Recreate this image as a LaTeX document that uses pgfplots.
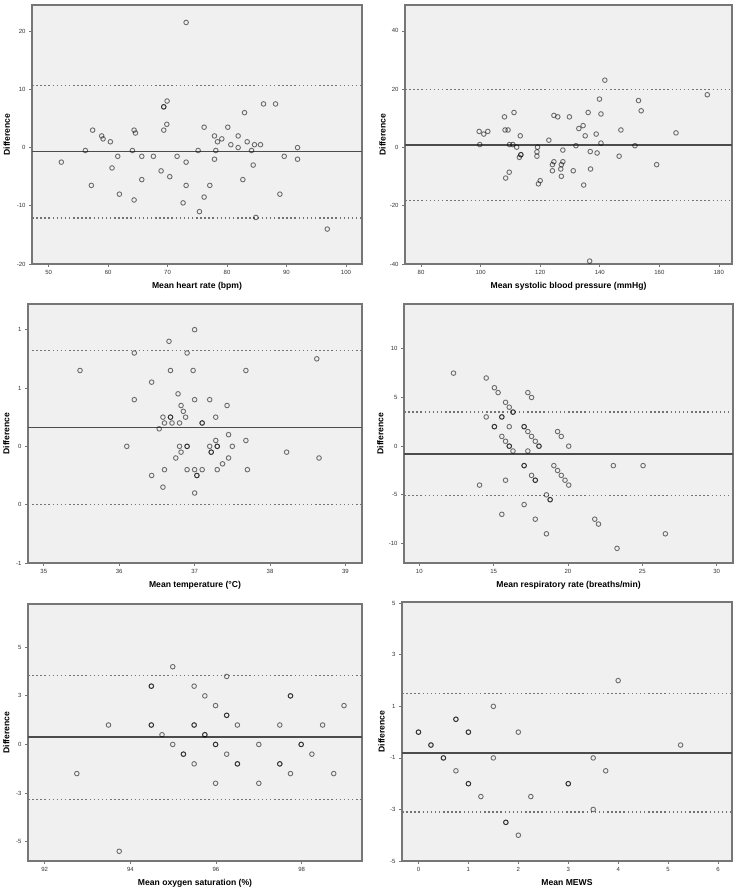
\documentclass[border=0pt]{standalone}
\usepackage{fontspec}
\setmainfont{Liberation Sans}[BoldFont={Liberation Sans Bold}]
\usepackage{pgfplots}
\pgfplotsset{compat=1.18}

\definecolor{bgc}{RGB}{240,240,240}
\definecolor{framec}{RGB}{118,118,118}
\newcommand{\lblfont}{\fontsize{8.6}{10}\selectfont\bfseries}

\pgfplotsset{
  ba/.style={
    scale only axis, anchor=south west,
    axis background/.style={fill=bgc},
    axis line style={draw=framec, line width=1.3pt},
    tick style={draw=framec, line width=0.8pt},
    tick align=outside, major tick length=3pt,
    xtick pos=bottom, ytick pos=left,
    tick label style={font=\fontsize{6}{7}\selectfont, text=black!80},
    /pgf/number format/assume math mode=true,
    every axis x label/.style={at={(axis description cs:0.5,0)}, anchor=center, yshift=-22pt, font=\lblfont},
    every axis y label/.style={rotate=90, anchor=center, font=\lblfont},
    ylabel=Difference,
  },
  pts/.style={only marks, mark=o, mark size=2.3pt,
    mark options={draw=black, draw opacity=0.55, line width=0.9pt}},
  meanl/.style={draw=black!70, line width=1.5pt},
  loa/.style={draw=black!55, line width=1.3pt, dash pattern=on 1.5pt off 2.6pt},
}

\begin{document}
\begin{tikzpicture}
\useasboundingbox (0pt,0pt) rectangle (740pt,892pt);

% heart rate
\begin{axis}[ba, at={(32pt,628pt)}, width=330pt, height=259pt,
  xmin=47.2, xmax=102.7, ymin=-20, ymax=24.5,
  xtick={50,60,...,100}, ytick={-20,-10,...,20},
  xlabel={Mean heart rate (bpm)},
  ylabel style={at={(axis description cs:-0.076,0.5)}}]
\addplot[meanl] coordinates {(47.2,-0.65) (102.7,-0.65)};
\addplot[loa] coordinates {(47.2,10.7) (102.7,10.7)};
\addplot[loa] coordinates {(47.2,-12.1) (102.7,-12.1)};
\addplot[pts] coordinates {
(73.12,21.5) (86.14,7.5) (88.16,7.5) (69.92,8.0) (69.36,7.0) (69.36,7.0)
(82.94,6.0) (69.87,4.0) (57.4,3.0) (64.37,3.0) (69.36,3.0) (76.15,3.5)
(80.13,3.5) (64.6,2.5) (58.92,2.0) (77.89,2.0) (81.87,2.0) (59.15,1.5)
(79.12,1.5) (60.38,1.0) (78.4,1.0) (83.39,1.0) (80.64,0.5) (84.62,0.5)
(85.63,0.5) (81.87,0) (91.86,0) (56.17,-0.5) (64.09,-0.5) (75.14,-0.5)
(78.11,-0.5) (84.12,-0.5) (61.62,-1.5) (65.66,-1.5) (67.62,-1.5) (71.6,-1.5)
(89.62,-1.5) (77.89,-2.0) (91.86,-2.0) (52.13,-2.5) (73.12,-2.5) (84.4,-3.0)
(60.66,-3.5) (68.91,-4.0) (70.37,-5.0) (65.66,-5.5) (82.66,-5.5) (57.18,-6.5)
(73.12,-6.5) (77.1,-6.5) (61.9,-8.0) (88.89,-8.0) (76.15,-8.5) (64.37,-9.0)
(72.61,-9.5) (75.36,-11.0) (84.85,-12.0) (96.86,-14.0)
};
\end{axis}

% systolic blood pressure
\begin{axis}[ba, at={(405pt,628pt)}, width=327pt, height=259pt,
  xmin=74.6, xmax=184.4, ymin=-40, ymax=48.9,
  xtick={80,100,...,180}, ytick={-40,-20,...,40},
  xlabel={Mean systolic blood pressure (mmHg)},
  ylabel style={at={(axis description cs:-0.069,0.5)}}]
\addplot[meanl] coordinates {(74.6,0.9) (184.4,0.9)};
\addplot[loa] coordinates {(74.6,19.9) (184.4,19.9)};
\addplot[loa] coordinates {(74.6,-18.2) (184.4,-18.2)};
\addplot[pts] coordinates {
(141.7,23.1) (176.1,18.1) (139.9,16.6) (153.0,16.1) (153.9,12.6) (111.2,12.0)
(136.1,12.0) (108.0,10.5) (124.6,11.0) (125.9,10.5) (129.8,10.5) (140.4,11.5)
(134.4,7.5) (132.97,6.5) (108.2,6.0) (109.2,6.0) (147.1,6.0) (99.5,5.5)
(102.4,5.5) (101.05,4.6) (138.8,4.6) (165.6,5.0) (113.3,4.0) (135.1,4.0)
(122.9,2.5) (99.7,1.0) (109.7,1.0) (110.8,1.0) (140.4,1.5) (112.1,0.1)
(119.1,0.1) (132.0,0.6) (151.8,0.6) (127.6,-0.9) (136.8,-1.4) (118.9,-1.5)
(139.1,-1.9) (118.9,-3.0) (113.5,-2.5) (113.5,-2.5) (113.0,-3.4) (146.5,-3.0)
(124.6,-4.9) (127.6,-4.9) (124.1,-5.9) (127.1,-5.9) (159.1,-5.9) (126.9,-7.4)
(136.9,-7.4) (124.1,-8.0) (131.1,-8.0) (109.6,-8.5) (108.4,-10.5) (127.1,-9.9)
(120.0,-11.4) (119.4,-12.5) (134.6,-12.9) (136.6,-39.0)
};
\end{axis}

% temperature
\begin{axis}[ba, at={(28pt,329pt)}, width=334pt, height=259pt,
  xmin=34.79, xmax=39.22, ymin=-1, ymax=1.22,
  xtick={35,36,...,39}, ytick={-1,-0.5,0,0.5,1}, yticklabels={-1,0,0,1,1},
  xlabel={Mean temperature (°C)},
  ylabel style={at={(axis description cs:-0.065,0.5)}}]
\addplot[meanl] coordinates {(34.79,0.163) (39.22,0.163)};
\addplot[loa] coordinates {(34.79,0.82) (39.22,0.82)};
\addplot[loa] coordinates {(34.79,-0.5) (39.22,-0.5)};
\addplot[pts] coordinates {
(37.0,1.0) (36.66,0.9) (36.2,0.8) (36.9,0.8) (38.62,0.75) (35.48,0.65)
(36.68,0.65) (36.98,0.65) (37.68,0.65) (36.43,0.55) (36.2,0.4) (36.78,0.45)
(37.0,0.4) (37.2,0.4) (36.82,0.35) (37.43,0.35) (36.85,0.3) (36.58,0.25)
(36.68,0.25) (36.68,0.25) (36.88,0.25) (37.28,0.25) (36.6,0.2) (36.7,0.2)
(36.8,0.2) (37.1,0.2) (37.1,0.2) (36.53,0.15) (37.45,0.1) (37.28,0.05)
(37.68,0.05) (36.1,0.0) (36.8,0.0) (36.9,0) (36.9,0) (37.2,0) (37.3,0) (37.3,0)
(37.5,0) (36.82,-0.05) (37.22,-0.05) (37.22,-0.05) (38.22,-0.05) (36.75,-0.1)
(37.45,-0.1) (38.65,-0.1) (37.37,-0.15) (36.43,-0.25) (36.6,-0.2) (36.9,-0.2)
(37.0,-0.2) (37.1,-0.2) (37.3,-0.2) (37.7,-0.2) (37.03,-0.25) (37.03,-0.25)
(36.58,-0.35) (37.0,-0.4)
};
\end{axis}

% respiratory rate
\begin{axis}[ba, at={(404pt,329pt)}, width=329pt, height=259pt,
  xmin=8.97, xmax=31.1, ymin=-12, ymax=14.6,
  xtick={10,15,...,30}, ytick={-10,-5,...,10},
  xlabel={Mean respiratory rate (breaths/min)},
  ylabel style={at={(axis description cs:-0.072,0.5)}}]
\addplot[meanl] coordinates {(8.97,-0.79) (31.1,-0.79)};
\addplot[loa] coordinates {(8.97,3.5) (31.1,3.5)};
\addplot[loa] coordinates {(8.97,-5.1) (31.1,-5.1)};
\addplot[pts] coordinates {
(12.3,7.5) (14.5,7) (15.05,6) (15.3,5.5) (17.3,5.5) (17.55,5) (15.8,4.5)
(16.05,4) (16.3,3.5) (16.3,3.5) (14.5,3) (15.55,3) (15.55,3) (15.05,2)
(15.05,2) (16.05,2) (17.05,2) (17.05,2) (17.3,1.5) (19.3,1.5) (15.55,1)
(17.55,1) (19.55,1) (15.8,0.5) (17.8,0.5) (16.05,0) (16.05,0) (18.05,0)
(18.05,0) (20.05,0) (16.3,-0.5) (17.3,-0.5) (17.05,-2) (17.05,-2) (19.05,-2)
(23.05,-2) (25.05,-2) (19.3,-2.5) (17.55,-3) (19.55,-3) (15.8,-3.5)
(17.8,-3.5) (17.8,-3.5) (19.8,-3.5) (14.05,-4) (20.05,-4) (18.55,-5)
(18.8,-5.5) (18.8,-5.5) (17.05,-6) (15.55,-7) (17.8,-7.5) (21.8,-7.5)
(22.05,-8) (18.55,-9) (26.55,-9) (23.3,-10.5)
};
\end{axis}

% oxygen saturation
\begin{axis}[ba, at={(28pt,31pt)}, width=334pt, height=257pt,
  xmin=91.61, xmax=99.41, ymin=-6, ymax=7.23,
  xtick={92,94,96,98}, ytick={-5,-2.5,0,2.5,5}, yticklabels={-5,-3,0,3,5},
  xlabel={Mean oxygen saturation (\%)},
  ylabel style={at={(axis description cs:-0.065,0.5)}}]
\addplot[meanl] coordinates {(91.61,0.38) (99.41,0.38)};
\addplot[loa] coordinates {(91.61,3.54) (99.41,3.54)};
\addplot[loa] coordinates {(91.61,-2.82) (99.41,-2.82)};
\addplot[pts] coordinates {
(94.99,4.0) (96.25,3.5) (94.49,3.0) (94.49,3.0) (95.49,3.0) (95.74,2.5)
(97.74,2.5) (97.74,2.5) (95.99,2.0) (98.99,2.0) (96.25,1.5) (96.25,1.5)
(93.49,1.0) (94.49,1.0) (94.49,1.0) (95.49,1.0) (95.49,1.0) (96.5,1.0)
(97.49,1.0) (98.49,1.0) (94.74,0.5) (95.74,0.5) (95.74,0.5) (94.99,0)
(95.99,0) (95.99,0) (97.0,0) (97.99,0) (97.99,0) (95.24,-0.5) (95.24,-0.5)
(96.25,-0.5) (98.24,-0.5) (95.49,-1.0) (96.5,-1.0) (96.5,-1.0) (97.49,-1.0)
(97.49,-1.0) (92.75,-1.5) (97.74,-1.5) (98.75,-1.5) (95.99,-2.0) (97.0,-2.0)
(93.74,-5.5)
};
\end{axis}

% MEWS
\begin{axis}[ba, at={(402pt,31pt)}, width=330pt, height=259pt,
  xmin=-0.33, xmax=6.28, ymin=-5, ymax=5.05,
  xtick={0,1,...,6}, ytick={-5,-3,...,5},
  xlabel={Mean MEWS},
  ylabel style={at={(axis description cs:-0.062,0.5)}}]
\addplot[meanl] coordinates {(-0.33,-0.81) (6.28,-0.81)};
\addplot[loa] coordinates {(-0.33,1.5) (6.28,1.5)};
\addplot[loa] coordinates {(-0.33,-3.1) (6.28,-3.1)};
\addplot[pts] coordinates {
(0,0) (0,0) (0.25,-0.5) (0.25,-0.5) (0.5,-1) (0.5,-1) (0.75,0.5) (0.75,0.5)
(0.75,-1.5) (1,0) (1,0) (1,-2) (1,-2) (1.25,-2.5) (1.5,1) (1.5,-1)
(1.75,-3.5) (1.75,-3.5) (2,0) (2,-4) (2.25,-2.5) (3,-2) (3,-2) (3.5,-1)
(3.5,-3) (3.75,-1.5) (4,2) (5.25,-0.5)
};
\end{axis}
\end{tikzpicture}
\end{document}
